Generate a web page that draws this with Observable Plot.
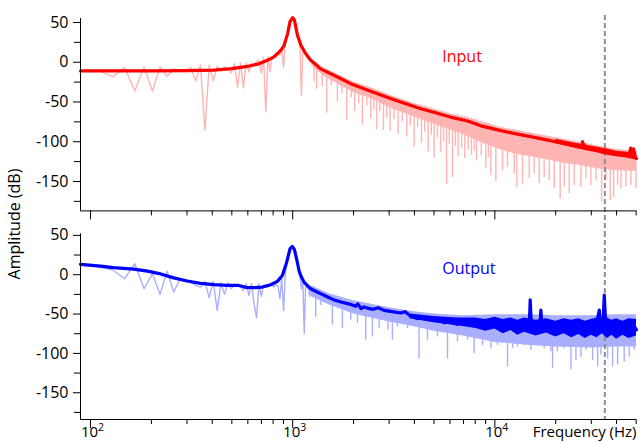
<!DOCTYPE html>
<html><head><meta charset="utf-8">
<script src="https://cdn.jsdelivr.net/npm/d3@7"></script>
<script src="https://cdn.jsdelivr.net/npm/@observablehq/plot@0.6"></script>
<style>
html,body{margin:0;padding:0;background:#fff;}
#wrap{position:relative;width:641px;height:442px;overflow:hidden;font-family:"Open Sans",sans-serif;}
#wrap svg{display:block;}
#ylab{position:absolute;left:14px;top:224px;transform:translate(-50%,-50%) rotate(-90deg);font-size:16px;white-space:nowrap;color:#000;}
</style></head><body>
<div id="wrap"><div id="ylab">Amplitude (dB)</div></div>
<script>
// ---------- axes ----------
const xDomain = [89.2, 50200];
const inDomain = [-187, 55];
const outDomain = [-184, 52];
const yMajor = [50, 0, -50, -100, -150];
const yMinor = [25, -25, -75, -125, -175];
const xMajor = [100, 1000, 10000];
const xTickBase = ["10", "10", "10"];
const xTickExp = ["2", "3", "4"];
const xMinor = [200,300,400,500,600,700,800,900,2000,3000,4000,5000,6000,7000,8000,9000,20000,30000,40000,50000];
const markerF = 35000;
const labels = ["Input", "Output"];
const labelF = 5494;
const labelDb = [7, 7.5];

// ---------- low-frequency FFT bins (Hz) ----------
const binF = [89.2,92,110.4,128.8,147.2,165.6,184,202.4,220.8,239.2,257.6,276,294.4,312.8,331.2,349.6,368,386.4,404.8,423.2,441.6,460,478.4,496.8,515.2,533.6,552,570.4,588.8,607.2,625.6,644,662.4,680.8,699.2,717.6,736,754.4,772.8,791.2,809.6,828,846.4,864.8,883.2,901.6,920,938.4,956.8,975.2,993.6,1012,1030.4,1048.8,1067.2,1085.6,1104,1122.4,1140.8,1159.2,1177.6,1196,1214.4,1232.8,1251.2];

// ---------- Input (top) ----------
const inRawV = [-10.5,-10.5,-10.5,-18.5,-6.7,-36.1,-5.9,-36.5,-5.9,-17.6,
 -8.8,-10,-12.2,-6.7,-23.5,-3.8,-85.6,-3.8,-23.5,-5,
 -10.9,-5.9,-9,-13.4,-1.7,-31.1,-0.8,-32.3,-0.8,-12.2,
 -1.7,-3.8,1,2.5,-13.4,5.9,-62.6,6.7,-12.2,6.7,
 9,10.9,12,8.8,16,-6.7,26,33,42,52,
 57,56,44,34,26,22,-41.6,16,13,11,
 8,5,4,2.5,0];
const inBandF  = [1240,1400,1600,2000,2500,3000,4000,5000,6000,7330,8530,10700,12400,15000,18300,22000,26400,32000,38400,45000,50200];
const inBandHi = [4,-6,-13,-25,-33,-41,-52,-59,-65,-70,-75,-82,-85,-89,-93,-97,-101,-105,-109,-111,-112];
const inBandLo = [-4,-16,-25,-38,-47,-57,-69,-78,-85,-93,-101,-110,-115,-119,-123,-127,-130,-134,-136,-137,-137];
const inSpikeF   = [1275,1315,1400,1473,1550,1664,1750,1851,1950,2028,2120,2213,2330,2433,2520,2606,2700,2812,2920,3032,3170,3323,3480,3667,3820,3987,4150,4335,4500,4676,4850,5007,5200,5404,5580,5768,5950,6174,6380,6581,6850,7102,7380,7664,7900,8115,8570,9023,9300,9550,10114,10914,11556,12460,12850,13710,14790,15650,16570,17540,18580,19670,21050,22040,23330,24700,26660,28210,29870,31620,33730,35440,37220,38680,40490,42040,44510,47140,49890];
const inSpikeTop = [0,-2,-6,-9,-12,-16,-19,-22,-25,-27,-29,-31,-33,-35,-36,-37,-38,-40,-41,-42,-44,-46,-47,-49,-50,-52,-53,-54,-55,-56,-57,-59,-60,-61,-62,-63,-64,-65,-66,-66,-67,-68,-69,-70,-71,-72,-74,-76,-77,-78,-80,-82,-84,-85,-86,-87,-88,-90,-91,-92,-93,-95,-96,-97,-98,-99,-101,-102,-103,-105,-106,-107,-108,-109,-110,-110,-111,-111,-112];
const inSpikeTip = [-25,-34,-31,-64,-30,-50,-40,-73,-45,-62,-52,-79,-55,-71,-60,-85,-62,-86,-70,-87,-72,-91,-75,-94,-80,-107,-82,-102,-88,-113,-92,-120,-95,-113,-100,-154,-103,-145,-106,-119,-108,-121,-110,-117,-112,-124,-118,-134,-120,-142,-150,-136,-132,-140,-158,-153,-146,-140,-153,-145,-149,-159,-172,-157,-165,-155,-157,-146,-155,-149,-176,-149,-174,-170,-155,-159,-157,-155,-159];
const inThickF  = [20000,24000,28000,32000,36000,40000,44000,48000,50200];
const inThickHi = [-97,-101,-104,-107,-109,-112,-113,-114,-116];
const inThickLo = [-102,-107,-111,-114,-117,-119,-120,-122,-123];
const inSmoothF = [89.2,200,300,408,500,597,680,750,809,873,906,944,970,1000,1020,1056,1100,1159,1227,1290,1374,1590,1937,2340,3000,3420,4310,4990,6024,7330,8530,10700,12400,15000,18300,22000,26400,27000,27160,27400,28000,30000,32000,34000,36000,38400,40000,42000,44000,46000,47000,47500,48500,49500,50200];
const inSmoothV = [-11,-11,-10.5,-10,-8,-5.3,-2,2.5,6.7,15,21,36,51,56,53,34,21,11,2.5,-2,-8.4,-16,-27,-35,-45,-50,-58.5,-63,-69,-74,-80,-86,-89.5,-93.5,-98,-102.5,-107,-106,-100,-103,-107,-109,-110,-113,-112,-115,-114,-117,-116,-118,-108,-116,-109,-119,-121];

// ---------- Output (bottom) ----------
const outRawV = [14,14,10,6,-5.1,14,-17.8,1.3,-25,4.6,
 -22.1,-6.4,-8.5,-9.4,-13.6,-15.7,-8.5,-29.2,-8.5,-45.4,
 -10.6,-25,-10.2,-17.8,-13.6,-13.6,-15.7,-19.9,-11.4,-26.3,
 -11.4,-36.9,-54.7,-11.4,-27.6,-13.6,-15.7,-15.7,-13.6,-13.6,
 -15.7,-12,-15,-30.5,-5.1,-45.4,1.3,14,28.7,35.1,
 37.2,35,26.7,18.2,5.5,-3,-17.8,-5.1,-75,-11.4,
 -15.7,-17.8,-27.6,-19,-20];
const outBandF  = [1240,1500,2000,3000,4000,5000,7000,10000,15000,20000,30000,40000,50200];
const outBandHi = [-14,-24,-33,-42,-47,-50,-52,-51,-51,-52,-52,-51,-51];
const outBandLo = [-28,-38,-50,-60,-66,-72,-78,-86,-90,-92,-93,-92,-92];
const outSpikeF   = [1300,1376,1572,1762,1937,2091,2298,2480,2676,2965,3114,3297,3697,3985,4218,4642,5200,5832,6536,7328,7900,8690,8851,9550,10310,10914,11556,12235,12960,13450,13965,15070,15650,17540,18930,19300,20370,22040,23780,25180,26660,28210,30450,32250,33480,36140,38240,40490,43650,46220,48940];
const outSpikeTop = [-20,-24,-30,-34,-37,-39,-42,-43,-43,-46,-47,-48,-50,-52,-54,-55,-56,-59,-62,-62,-64,-63,-62,-65,-65,-65,-66,-66,-66,-67,-67,-66,-66,-67,-68,-68,-68,-69,-69,-68,-69,-70,-68,-66,-66,-68,-69,-68,-70,-69,-68];
const outSpikeTip = [-54,-39,-64,-68.5,-58,-62,-83,-79,-68.5,-70.7,-83,-66.5,-68.5,-62,-107,-83,-79,-107,-85.5,-83,-100,-90,-77,-94,-90,-83,-117,-94,-92,-88,-90,-96,-88,-94,-98,-119,-98,-94,-121,-109,-105,-96,-109,-117,-102,-107,-117,-115,-111,-105,-96];
const outThickF  = [3800,5000,6500,8000,9000,10000,11000,12000,13000,14000,16000,18000,20000,22000,24000,26000,28000,30000,32000,34000,36000,38000,40000,43000,46000,50200];
const outThickHi = [-50,-53,-55,-55,-57,-54,-57,-55,-58,-55,-58,-56,-59,-56,-58,-56,-59,-57,-55,-58,-55,-58,-56,-59,-56,-57];
const outThickLo = [-56,-61,-65,-68,-72,-69,-75,-71,-77,-73,-78,-74,-79,-75,-80,-76,-81,-77,-80,-75,-81,-77,-82,-77,-81,-78];
const outSmoothF = [89.2,112,130,164,191,222,258,301,350,408,475,542,585,644,708,778,840,889,934,970,996,1020,1050,1075,1100,1138,1180,1227,1275,1374,1480,1590,1750,1937,2050,2100,2178,2250,2340,2500,2650,2833,3100,3420,3600,3800,4130,4500,4990,5300,5600,6024,6500,6900,7330,7800,8300,8850,9300,9800,10300,10700,11200,11800,12400,13000,13600,14300,14800,14960,15150,15600,16200,16700,16890,17100,17800,18600,19500,20500,21600,22600,23800,25000,26300,27600,29000,30500,31800,32860,33300,34200,34770,35400,36500,38000,39500,41000,43000,45000,47000,49000,50200];
const outSmoothV = [13.2,11,9,7.2,4.5,1,-4,-8,-11,-12.7,-13.6,-13.6,-16,-16.5,-15.7,-12.7,-8.5,-1,16,33,36,32,18,5,-2,-9.4,-13.6,-17.8,-20,-24,-28,-31.7,-35,-37.7,-40,-37,-43,-41,-42.4,-44,-42,-45.3,-47,-48.7,-47,-52,-55.8,-54,-58,-56,-61,-60,-63,-60,-62.2,-65,-61,-63,-67,-62,-66,-61,-66,-63,-67,-64,-69,-63,-65,-32,-64,-67,-62,-66,-45,-65,-70,-64,-69,-65,-71,-66,-70,-65,-71,-66,-72,-67,-63,-45,-64,-70,-26,-66,-70,-64,-71,-66,-72,-65,-71,-66,-70];

// ---------- colours ----------
const pink = "#ffb4b4", red = "#ff0000";
const lightBlue = "#aaaeff", blue = "#0000ff";
const dashGrey = "#8c8c8c";

const pts = (F, V) => F.map((f, i) => ({f, v: V[i]}));
const band = (F, H, L) => F.map((f, i) => ({f, hi: H[i], lo: L[i]}));
const spikes = (F, T, P) => F.map((f, i) => ({f, top: T[i], tip: P[i]}));

const baseStyle = {fontFamily: '"Open Sans", sans-serif', fontSize: "16px", background: "white", color: "black", overflow: "visible"};

function panel({height, marginTop, marginBottom, domain, raw, bnd, spk, thick, smooth, lightC, darkC, label, labelY, showLabels, dashInsetTop, dashInsetBottom}) {
  const marks = [
    Plot.areaY(bnd, {x: "f", y1: "lo", y2: "hi", fill: lightC}),
    Plot.ruleX(spk, {x: "f", y1: "top", y2: "tip", stroke: lightC, strokeWidth: 1.4}),
    Plot.line(raw, {x: "f", y: "v", stroke: lightC, strokeWidth: 1.4}),
    Plot.ruleX([markerF], {stroke: dashGrey, strokeWidth: 2, strokeDasharray: "5,3", insetTop: dashInsetTop, insetBottom: dashInsetBottom}),
    Plot.areaY(thick, {x: "f", y1: "lo", y2: "hi", fill: darkC}),
    Plot.line(smooth, {x: "f", y: "v", stroke: darkC, strokeWidth: 3.2}),
    Plot.text([label], {x: labelF, y: labelY, text: d => d, fill: darkC, textAnchor: "start", fontSize: 16}),
    Plot.ruleX([xDomain[0]], {stroke: "black", strokeWidth: 1}),
    Plot.ruleY([domain[0]], {stroke: "black", strokeWidth: 1}),
    Plot.axisY(yMajor, {tickSize: 7, tickPadding: 5, tickFormat: d => String(d), label: null, fontSize: 16}),
    Plot.axisY(yMinor, {tickSize: 6, tickFormat: () => "", label: null}),
    Plot.axisX(xMajor, {tickSize: 9, tickFormat: () => "", label: null}),
    Plot.axisX(xMinor, {tickSize: 5, tickFormat: () => "", label: null})
  ];
  if (showLabels) {
    marks.push(
      Plot.text(xMajor, {x: d => d, text: (d, i) => xTickBase[i], frameAnchor: "bottom", lineAnchor: "top", dy: 7, dx: -1, fontSize: 15}),
      Plot.text(xMajor, {x: d => d, text: (d, i) => xTickExp[i], frameAnchor: "bottom", lineAnchor: "top", textAnchor: "start", dy: 4, dx: 7.5, fontSize: 10.5}),
      Plot.text(["Frequency (Hz)"], {text: d => d, frameAnchor: "bottom-right", textAnchor: "end", lineAnchor: "top", dy: 7, fontSize: 15})
    );
  }
  return Plot.plot({
    width: 641, height, marginLeft: 80, marginRight: 5, marginTop, marginBottom,
    style: baseStyle,
    x: {type: "log", domain: xDomain, axis: null},
    y: {domain, axis: null},
    marks
  });
}

const wrap = document.getElementById("wrap");
wrap.appendChild(panel({
  height: 232, marginTop: 18, marginBottom: 21.6, domain: inDomain,
  raw: pts(binF, inRawV), bnd: band(inBandF, inBandHi, inBandLo),
  spk: spikes(inSpikeF, inSpikeTop, inSpikeTip), thick: band(inThickF, inThickHi, inThickLo),
  smooth: pts(inSmoothF, inSmoothV), lightC: pink, darkC: red,
  label: labels[0], labelY: labelDb[0], showLabels: false, dashInsetTop: -3, dashInsetBottom: -21.6
}));
wrap.appendChild(panel({
  height: 210, marginTop: 1.3, marginBottom: 23, domain: outDomain,
  raw: pts(binF, outRawV), bnd: band(outBandF, outBandHi, outBandLo),
  spk: spikes(outSpikeF, outSpikeTop, outSpikeTip), thick: band(outThickF, outThickHi, outThickLo),
  smooth: pts(outSmoothF, outSmoothV), lightC: lightBlue, darkC: blue,
  label: labels[1], labelY: labelDb[1], showLabels: true, dashInsetTop: -1.3, dashInsetBottom: 0
}));
</script>
</body></html>
